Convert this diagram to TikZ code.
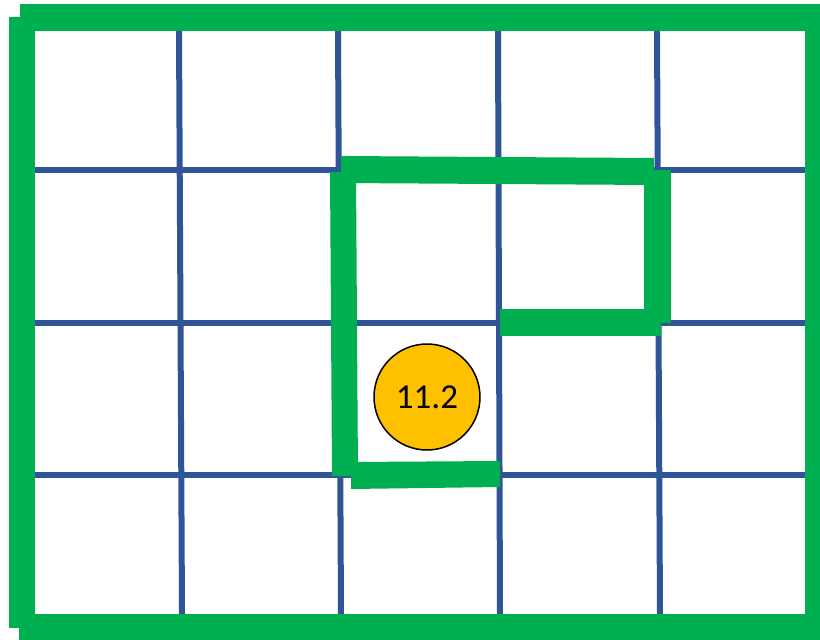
\documentclass[tikz,border=0pt]{standalone}
\usepackage{fontspec}
\setmainfont{Carlito}
\definecolor{wallgreen}{HTML}{00B050}
\definecolor{gridblue}{HTML}{2F5597}
\definecolor{markyellow}{HTML}{FFC000}
\tikzset{
  gridline/.style={draw=gridblue, line width=6pt},
  wall/.style={fill=wallgreen, draw=none},
  marker/.style={circle, fill=markyellow, draw=black, line width=1.5pt, minimum size=106pt, inner sep=0pt, font=\fontsize{35}{40}\selectfont}
}
\begin{document}
\begin{tikzpicture}[x=1pt,y=-1pt]
\useasboundingbox (0,0) rectangle (820,640);
% grid
\draw[gridline] (179,31) -- (182,614);
\draw[gridline] (338,31) -- (341,614);
\draw[gridline] (498,31) -- (500,614);
\draw[gridline] (657,31) -- (660,614);
\draw[gridline] (35,170) -- (806,170);
\draw[gridline] (35,322.5) -- (806,322.5);
\draw[gridline] (35,475) -- (806,475);
% outer walls
\fill[wall] (20,4) rectangle (820,31);
\fill[wall] (9,17) rectangle (35,628);
\fill[wall] (19,614) rectangle (820,640);
\fill[wall] (805,4) rectangle (820,640);
% inner walls
\fill[wall] (341,156) -- (654,158) -- (654,185) -- (341,183) -- cycle;
\fill[wall] (330,172) -- (356,172) -- (358,476) -- (332,476) -- cycle;
\fill[wall] (351,462) -- (500,461) -- (500,487) -- (351,489) -- cycle;
\fill[wall] (644,170) rectangle (671,323);
\fill[wall] (500,309) rectangle (661,336);
% marker
\node[marker] (m) at (427,397) {11.2};
\end{tikzpicture}
\end{document}
